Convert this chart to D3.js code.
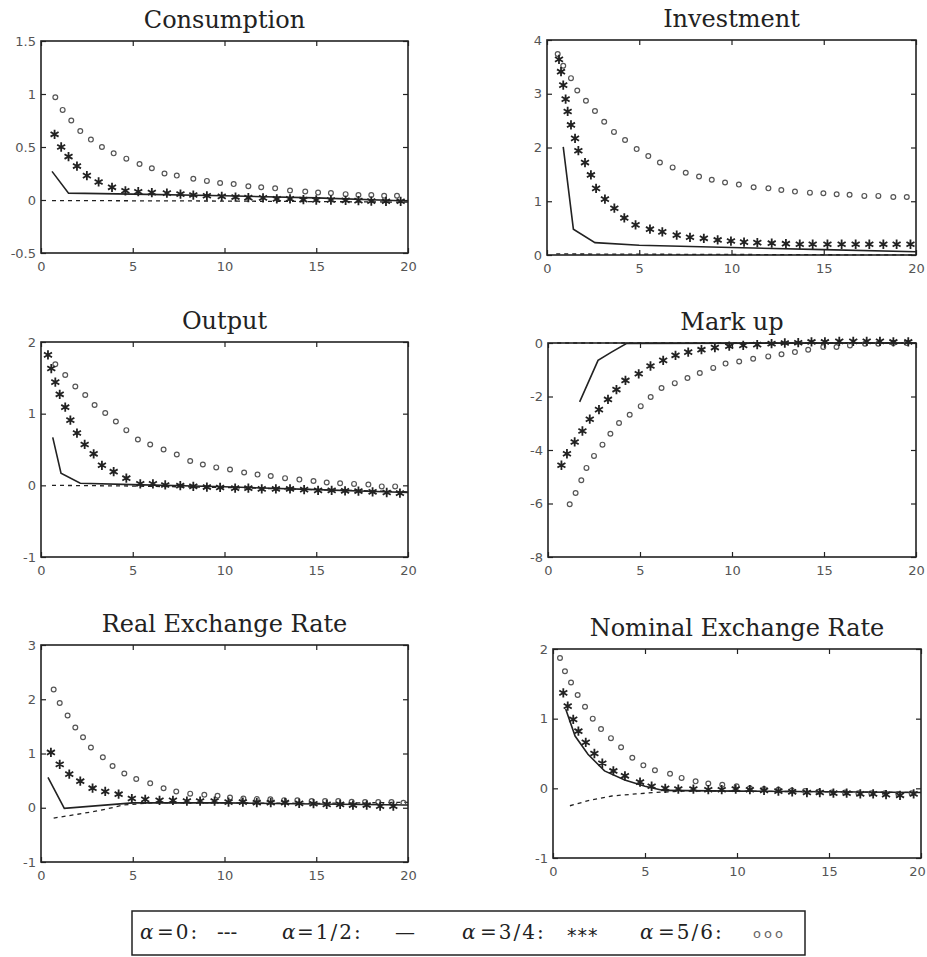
<!DOCTYPE html>
<html>
<head>
<meta charset="utf-8">
<script src="https://cdn.jsdelivr.net/npm/d3@7"></script>
<style>
  body { margin: 0; background: #fff; }
  .tick text { font-family: "DejaVu Sans", sans-serif; font-size: 13px; fill: #555; }
  .tick line { stroke: #222; stroke-width: 1.2; }
  .title { font-family: "DejaVu Serif", serif; font-size: 24px; fill: #222; }
  .legend text { font-family: "DejaVu Serif", serif; font-size: 20px; fill: #222; }
</style>
</head>
<body>
<script>
// x axis shared by every panel
const xDomain = [0, 20];
const xTicks = [0, 5, 10, 15, 20];

// panel titles and y axes
const titles = ['Consumption', 'Investment', 'Output', 'Mark up', 'Real Exchange Rate', 'Nominal Exchange Rate'];
const yDomains = [[-0.5, 1.5], [0, 4], [-1, 2], [-8, 0], [-1, 3], [-1, 2]];
const yTicks = [
  [-0.5, 0, 0.5, 1, 1.5],
  [0, 1, 2, 3, 4],
  [-1, 0, 1, 2],
  [-8, -6, -4, -2, 0],
  [-1, 0, 1, 2, 3],
  [-1, 0, 1, 2]
];

// series: [period, value]
// alpha = 0 (dashed), 1/2 (solid), 3/4 (stars), 5/6 (circles)
const consumptionDash = [[0.6, -0.005], [10, -0.01], [20, -0.02]];
const consumptionSolid = [[0.6, 0.27], [1.5, 0.065], [5, 0.055], [10, 0.04], [15, 0.02], [20, -0.01]];
const consumptionStar = [[0.74, 0.62], [1.1, 0.5], [1.5, 0.41], [1.96, 0.32], [2.5, 0.23], [3.14, 0.17], [3.87, 0.12], [4.6, 0.087], [5.3, 0.078], [6.04, 0.07], [6.86, 0.065], [7.6, 0.056], [8.3, 0.047], [9.04, 0.04], [9.85, 0.034], [10.6, 0.028], [11.3, 0.022], [12.1, 0.02], [12.85, 0.01], [13.57, 0.01], [14.3, 0.003], [15.0, 0], [15.8, 0], [16.6, -0.003], [17.3, -0.006], [18.0, -0.01], [18.8, -0.012], [19.6, -0.012]];
const consumptionCircle = [[0.78, 0.97], [1.18, 0.85], [1.65, 0.75], [2.14, 0.65], [2.72, 0.57], [3.32, 0.5], [3.96, 0.44], [4.65, 0.39], [5.37, 0.34], [6.04, 0.3], [6.73, 0.25], [7.4, 0.23], [8.3, 0.2], [9.04, 0.18], [9.76, 0.16], [10.5, 0.15], [11.3, 0.13], [12.0, 0.12], [12.76, 0.11], [13.57, 0.09], [14.4, 0.08], [15.1, 0.07], [15.8, 0.065], [16.6, 0.055], [17.3, 0.047], [18.0, 0.047], [18.7, 0.04], [19.4, 0.04]];

const investmentDash = [[0.5, 0.02], [10, 0.01], [20, 0.0]];
const investmentSolid = [[0.88, 2.01], [1.43, 0.48], [2.6, 0.23], [5, 0.18], [10, 0.14], [15, 0.1], [20, 0.06]];
const investmentStar = [[0.65, 3.64], [0.76, 3.41], [0.88, 3.16], [1.01, 2.9], [1.12, 2.67], [1.3, 2.42], [1.52, 2.17], [1.7, 1.94], [2.06, 1.72], [2.38, 1.49], [2.66, 1.24], [3.14, 1.04], [3.65, 0.87], [4.19, 0.69], [4.8, 0.56], [5.58, 0.48], [6.25, 0.43], [7.03, 0.37], [7.75, 0.33], [8.5, 0.31], [9.25, 0.28], [9.97, 0.26], [10.68, 0.24], [11.4, 0.23], [12.18, 0.22], [12.95, 0.21], [13.7, 0.2], [14.4, 0.2], [15.2, 0.2], [15.97, 0.2], [16.73, 0.2], [17.47, 0.2], [18.23, 0.2], [18.95, 0.2], [19.7, 0.2]];
const investmentCircle = [[0.58, 3.74], [0.88, 3.52], [1.3, 3.29], [1.64, 3.06], [2.11, 2.87], [2.6, 2.68], [3.1, 2.48], [3.63, 2.29], [4.23, 2.14], [4.86, 1.97], [5.49, 1.84], [6.12, 1.72], [6.81, 1.63], [7.52, 1.53], [8.24, 1.46], [8.93, 1.4], [9.65, 1.35], [10.4, 1.31], [11.2, 1.26], [12.0, 1.24], [12.7, 1.21], [13.44, 1.18], [14.25, 1.16], [14.98, 1.15], [15.7, 1.13], [16.4, 1.12], [17.2, 1.1], [17.96, 1.1], [18.77, 1.08], [19.5, 1.08]];

const outputDash = [[0.6, 0.0], [5, -0.01], [10, -0.03], [15, -0.06], [20, -0.09]];
const outputSolid = [[0.64, 0.67], [1.09, 0.17], [2.14, 0.03], [5, 0.01], [10, -0.02], [15, -0.06], [20, -0.1]];
const outputStar = [[0.38, 1.82], [0.56, 1.63], [0.78, 1.44], [1.02, 1.27], [1.32, 1.09], [1.6, 0.91], [1.96, 0.73], [2.38, 0.57], [2.87, 0.44], [3.32, 0.28], [3.96, 0.19], [4.65, 0.1], [5.41, 0.02], [6.1, 0.02], [6.77, 0.005], [7.59, -0.005], [8.3, -0.014], [9.04, -0.024], [9.76, -0.03], [10.58, -0.04], [11.3, -0.04], [12.03, -0.05], [12.8, -0.05], [13.57, -0.05], [14.34, -0.06], [15.1, -0.07], [15.84, -0.07], [16.57, -0.076], [17.3, -0.08], [18.07, -0.09], [18.84, -0.1], [19.56, -0.11]];
const outputCircle = [[0.78, 1.69], [1.32, 1.54], [1.87, 1.38], [2.41, 1.26], [2.92, 1.12], [3.5, 1.01], [4.08, 0.89], [4.65, 0.77], [5.28, 0.64], [5.95, 0.57], [6.68, 0.5], [7.4, 0.43], [8.13, 0.34], [8.82, 0.29], [9.55, 0.25], [10.3, 0.22], [11.07, 0.18], [11.8, 0.15], [12.52, 0.13], [13.3, 0.1], [14.08, 0.08], [14.85, 0.06], [15.57, 0.04], [16.3, 0.03], [17.06, 0.02], [17.84, 0.01], [18.57, -0.015], [19.3, -0.015]];

const markupDash = [[0.5, 0], [20, 0]];
const markupSolid = [[1.72, -2.2], [2.72, -0.65], [3.45, -0.34], [4.26, -0.02], [20, 0]];
const markupStar = [[0.73, -4.57], [1.03, -4.14], [1.45, -3.7], [1.87, -3.29], [2.27, -2.85], [2.77, -2.49], [3.26, -2.11], [3.72, -1.74], [4.21, -1.4], [4.93, -1.15], [5.57, -0.86], [6.26, -0.65], [6.93, -0.46], [7.62, -0.34], [8.34, -0.25], [9.07, -0.17], [9.85, -0.12], [10.61, -0.09], [11.37, -0.06], [12.15, -0.025], [12.87, 0], [13.6, 0.01], [14.32, 0.04], [15.05, 0.04], [15.83, 0.06], [16.59, 0.06], [17.32, 0.06], [18.04, 0.06], [18.77, 0.04], [19.58, 0.04]];
const markupCircle = [[1.18, -6.03], [1.5, -5.61], [1.81, -5.13], [2.09, -4.67], [2.5, -4.22], [2.96, -3.8], [3.39, -3.39], [3.86, -2.99], [4.44, -2.68], [5.04, -2.36], [5.58, -2.02], [6.17, -1.68], [6.89, -1.5], [7.58, -1.31], [8.25, -1.12], [8.98, -0.93], [9.65, -0.77], [10.39, -0.69], [11.15, -0.59], [11.97, -0.5], [12.69, -0.42], [13.42, -0.34], [14.14, -0.25], [14.96, -0.15], [15.68, -0.15], [16.41, -0.09], [17.23, -0.025], [17.95, -0.025], [18.77, 0], [19.49, 0]];

const realDash = [[0.69, -0.19], [2, -0.12], [3.2, -0.05], [4.5, 0.05], [6, 0.09], [10, 0.09], [15, 0.08], [20, 0.1]];
const realSolid = [[0.38, 0.56], [1.27, -0.01], [5, 0.09], [10, 0.09], [15, 0.07], [20, 0.05]];
const realStar = [[0.54, 1.02], [1.02, 0.8], [1.54, 0.62], [2.14, 0.49], [2.81, 0.36], [3.5, 0.3], [4.23, 0.25], [4.95, 0.17], [5.68, 0.155], [6.46, 0.136], [7.19, 0.136], [7.95, 0.124], [8.67, 0.124], [9.46, 0.124], [10.22, 0.105], [11.0, 0.105], [11.76, 0.093], [12.52, 0.093], [13.3, 0.093], [14.07, 0.08], [14.85, 0.074], [15.57, 0.062], [16.3, 0.062], [17.0, 0.05], [17.75, 0.05], [18.48, 0.03], [19.2, 0.03]];
const realCircle = [[0.69, 2.18], [1.02, 1.93], [1.45, 1.7], [1.87, 1.48], [2.29, 1.3], [2.72, 1.11], [3.37, 0.93], [3.9, 0.77], [4.54, 0.63], [5.19, 0.53], [5.95, 0.45], [6.68, 0.36], [7.37, 0.3], [8.13, 0.26], [8.9, 0.24], [9.62, 0.22], [10.3, 0.19], [11.03, 0.17], [11.76, 0.16], [12.5, 0.155], [13.25, 0.14], [13.97, 0.136], [14.75, 0.124], [15.48, 0.124], [16.2, 0.124], [16.93, 0.11], [17.66, 0.105], [18.38, 0.105], [19.1, 0.105], [19.75, 0.093]];

const nominalDash = [[0.92, -0.25], [2, -0.17], [3.2, -0.11], [4.5, -0.08], [5.5, -0.06], [7, -0.04], [10, -0.04], [15, -0.05], [20, -0.06]];
const nominalSolid = [[0.69, 1.14], [1.2, 0.75], [1.9, 0.49], [2.8, 0.25], [3.9, 0.12], [5, 0.03], [6, -0.03], [10, -0.04], [15, -0.05], [20, -0.06]];
const nominalStar = [[0.56, 1.37], [0.8, 1.18], [1.1, 0.99], [1.38, 0.82], [1.78, 0.66], [2.25, 0.5], [2.68, 0.36], [3.28, 0.25], [3.91, 0.18], [4.73, 0.09], [5.36, 0.03], [6.1, 0.0], [6.81, -0.01], [7.63, -0.01], [8.44, -0.02], [9.17, -0.02], [9.93, -0.01], [10.7, -0.02], [11.47, -0.03], [12.25, -0.04], [13.0, -0.05], [13.8, -0.06], [14.5, -0.06], [15.24, -0.07], [15.96, -0.07], [16.7, -0.08], [17.4, -0.08], [18.1, -0.09], [18.86, -0.1], [19.6, -0.08]];
const nominalCircle = [[0.38, 1.87], [0.65, 1.68], [0.98, 1.52], [1.34, 1.34], [1.74, 1.17], [2.16, 1.0], [2.61, 0.85], [3.15, 0.72], [3.7, 0.59], [4.31, 0.44], [4.91, 0.33], [5.54, 0.26], [6.36, 0.21], [6.99, 0.15], [7.75, 0.1], [8.44, 0.07], [9.2, 0.05], [9.98, 0.03], [10.7, 0.0], [11.47, -0.01], [12.25, -0.02], [12.98, -0.03], [13.7, -0.04], [14.43, -0.05], [15.15, -0.06], [15.87, -0.06], [16.6, -0.07], [17.3, -0.07], [18.04, -0.07], [18.77, -0.08], [19.49, -0.07]];

const legendLabels = ['=0:', '=1/2:', '=3/4:', '=5/6:'];
const legendKeys = ['---', '\u2014', '***', 'ooo'];

// layout: frame of each panel [left, top, right, bottom]
const boxes = [
  [41, 41, 408, 253], [547, 40, 916, 255],
  [41, 342, 408, 557], [548, 343, 916, 557],
  [41, 645, 408, 862], [553, 649, 921, 858]
];

const panels = [
  [consumptionDash, consumptionSolid, consumptionStar, consumptionCircle],
  [investmentDash, investmentSolid, investmentStar, investmentCircle],
  [outputDash, outputSolid, outputStar, outputCircle],
  [markupDash, markupSolid, markupStar, markupCircle],
  [realDash, realSolid, realStar, realCircle],
  [nominalDash, nominalSolid, nominalStar, nominalCircle]
].map((s, i) => ({
  title: titles[i], yDomain: yDomains[i], yTicks: yTicks[i], box: boxes[i],
  dash: s[0], solid: s[1], star: s[2], circle: s[3]
}));

const svg = d3.select('body').append('svg')
  .attr('width', 927)
  .attr('height', 957);

const star = d3.symbol().type(d3.symbolAsterisk).size(60);

panels.forEach(function (p) {
  const [l, t, r, b] = p.box;
  const x = d3.scaleLinear().domain(xDomain).range([l, r]);
  const y = d3.scaleLinear().domain(p.yDomain).range([b, t]);
  const g = svg.append('g');

  // inward ticks on all four sides, labels only bottom + left
  const bottom = g.append('g').attr('transform', `translate(0,${b})`)
    .call(d3.axisBottom(x).tickValues(xTicks).tickSizeInner(-5).tickSizeOuter(0).tickPadding(9).tickFormat(d => String(d)));
  // keep the last label inside the page when the frame touches the edge
  if (r > 918) {
    bottom.selectAll('.tick text').filter(d => d === 20).attr('dx', -4);
  }
  g.append('g').attr('transform', `translate(0,${t})`)
    .call(d3.axisTop(x).tickValues(xTicks).tickSizeInner(-5).tickSizeOuter(0).tickFormat(''));
  g.append('g').attr('transform', `translate(${l},0)`)
    .call(d3.axisLeft(y).tickValues(p.yTicks).tickSizeInner(-5).tickSizeOuter(0).tickPadding(5).tickFormat(d => String(d)));
  g.append('g').attr('transform', `translate(${r},0)`)
    .call(d3.axisRight(y).tickValues(p.yTicks).tickSizeInner(-5).tickSizeOuter(0).tickFormat(''));
  g.selectAll('.domain').remove();

  g.append('rect')
    .attr('x', l).attr('y', t)
    .attr('width', r - l).attr('height', b - t)
    .attr('fill', 'none')
    .attr('stroke', '#222')
    .attr('stroke-width', 1.6);

  const line = d3.line().x(d => x(d[0])).y(d => y(d[1]));

  g.append('path')
    .attr('d', line(p.dash))
    .attr('fill', 'none')
    .attr('stroke', '#222')
    .attr('stroke-width', 1.3)
    .attr('stroke-dasharray', '4,4');

  g.append('path')
    .attr('d', line(p.solid))
    .attr('fill', 'none')
    .attr('stroke', '#222')
    .attr('stroke-width', 1.6);

  g.selectAll('.circ')
    .data(p.circle)
    .enter()
    .append('circle')
    .attr('class', 'circ')
    .attr('cx', d => x(d[0]))
    .attr('cy', d => y(d[1]))
    .attr('r', 2.4)
    .attr('fill', 'none')
    .attr('stroke', '#555')
    .attr('stroke-width', 1.2);

  g.selectAll('.star')
    .data(p.star)
    .enter()
    .append('path')
    .attr('class', 'star')
    .attr('d', star)
    .attr('transform', d => `translate(${x(d[0])},${y(d[1])})`)
    .attr('fill', 'none')
    .attr('stroke', '#222')
    .attr('stroke-width', 1.8);

  g.append('text')
    .attr('class', 'title')
    .attr('x', (l + r) / 2)
    .attr('y', t - 13)
    .attr('text-anchor', 'middle')
    .text(p.title);
});

// legend box at the bottom
const legend = svg.append('g').attr('class', 'legend');
legend.append('rect')
  .attr('x', 132).attr('y', 911)
  .attr('width', 673).attr('height', 44)
  .attr('fill', 'none')
  .attr('stroke', '#222')
  .attr('stroke-width', 1.5);

const alphaX = [140, 282, 462, 640];
const labelX = [157, 297, 480, 658];
const keyX = [217, 395, 567, 753];
legendLabels.forEach(function (lab, i) {
  legend.append('text').attr('x', alphaX[i]).attr('y', 939)
    .style('font-style', 'italic').text('\u03B1');
  legend.append('text').attr('x', labelX[i]).attr('y', 939)
    .style('letter-spacing', '2px').text(lab);
  const key = legend.append('text').attr('x', keyX[i]).attr('y', 939).text(legendKeys[i]);
  if (i === 2) {
    key.attr('dy', 3).style('font-family', '"DejaVu Sans", sans-serif').style('font-size', '19px')
      .style('letter-spacing', '1px');
  }
  if (i === 3) {
    key.attr('dy', -1).style('font-family', '"DejaVu Sans", sans-serif').style('font-size', '13px')
      .style('letter-spacing', '3px').style('fill', '#666');
  }
});
</script>
</body>
</html>
